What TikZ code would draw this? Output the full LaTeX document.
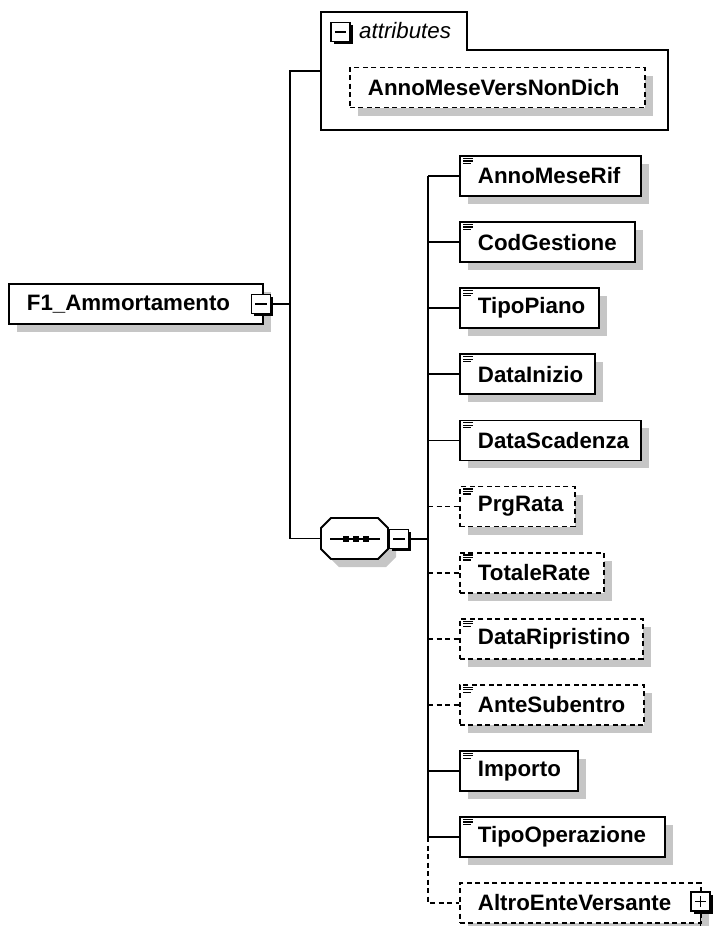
\documentclass[tikz,border=0pt]{standalone}
\usepackage{fontspec}
\setmainfont{Liberation Sans}
\usetikzlibrary{shadows}
\definecolor{shgray}{RGB}{198,198,198}
\tikzset{
  lbl/.style={font=\fontsize{22.3}{26}\selectfont\bfseries,
    execute at begin node={\hyphenpenalty=10000\relax\exhyphenpenalty=10000\relax}},
  elbox/.style={lbl, draw, line width=1.8pt, fill=white, anchor=west, minimum height=40pt,
    inner xsep=18pt, inner ysep=0pt, align=left,
    drop shadow={shadow xshift=8pt, shadow yshift=-8pt, fill=shgray, opacity=1}},
  optbox/.style={elbox, dash pattern=on 5pt off 3.5pt},
  conn/.style={line width=1.8pt},
  optconn/.style={line width=1.8pt, dash pattern=on 5pt off 3.5pt},
  tgl/.style={draw, line width=1.5pt, fill=white, minimum size=19pt, inner sep=0pt,
    drop shadow={shadow xshift=2.5pt, shadow yshift=-2.5pt, fill=black, opacity=1}},
}
\newcommand\simpleicon[1]{%
  \draw[line width=1.2pt] ([shift={(4pt,-3.3pt)}]#1.north west) -- ++(9.5,0);
  \draw[line width=1.2pt] ([shift={(4pt,-5.8pt)}]#1.north west) -- ++(9.5,0);
  \draw[line width=1.2pt] ([shift={(4pt,-8.3pt)}]#1.north west) -- ++(8,0);
}
\newcommand\minusicon[1]{%
  \draw[line width=1.5pt] ([xshift=4.5pt]#1.west) -- ([xshift=-4.5pt]#1.east);
}
\begin{document}
\begin{tikzpicture}[x=1pt,y=-1pt]
\useasboundingbox (0,0) rectangle (712,926);

% attributes group
\draw[line width=1.8pt] (321,130) -- (321,12) -- (467,12) -- (467,50) -- (668,50) -- (668,130) -- cycle;
\node[tgl] (attrt) at (340.5,32) {};
\minusicon{attrt}
\node[font=\fontsize{22.3}{26}\selectfont\itshape, anchor=west, inner sep=0pt] (attrlbl) at (359,31) {attributes};
\node[optbox, text width=259pt] (amv) at (349,87.5) {AnnoMeseVersNonDich};
\coordinate (attrin) at (321,71);

% root element
\node[elbox, text width=218pt] (f1) at (8,304) {F1\_Ammortamento};
\node[tgl] (f1t) at (261,304) {};
\minusicon{f1t}
\coordinate (j1) at (290,304);

% sequence compositor
\fill[shgray] (339,526) -- (386,526) -- (396,536) -- (396,557) -- (386,567) -- (339,567) -- (329,557) -- (329,536) -- cycle;
\draw[line width=1.8pt, fill=white] (331,518) -- (378,518) -- (388,528) -- (388,549) -- (378,559) -- (331,559) -- (321,549) -- (321,528) -- cycle;
\node[minimum width=67pt, minimum height=41pt, inner sep=0pt] (seq) at (354.5,538.5) {};
\draw[line width=1.8pt] (330,539) -- (380,539);
\foreach \dx in {346,356,366} \fill (\dx-3,539-3) rectangle ++(6,6);
\node[tgl] (seqt) at (399,539) {};
\minusicon{seqt}
\coordinate (j2) at (428,539);

% children
\node[elbox, text width=145pt] (c1) at (459,176) {AnnoMeseRif};
\node[elbox, text width=139pt] (c2) at (459,242.1) {CodGestione};
\node[elbox, text width=103pt] (c3) at (459,308.2) {TipoPiano};
\node[elbox, text width=99pt] (c4) at (459,374.3) {DataInizio};
\node[elbox, text width=145pt] (c5) at (459,440.4) {DataScadenza};
\node[optbox, text width=79pt] (c6) at (459,506.5) {PrgRata};
\node[optbox, text width=108pt] (c7) at (459,572.6) {TotaleRate};
\node[optbox, text width=147pt] (c8) at (459,638.7) {DataRipristino};
\node[optbox, text width=148pt] (c9) at (459,704.8) {AnteSubentro};
\node[elbox, text width=82pt] (c10) at (459,770.9) {Importo};
\node[elbox, text width=169pt] (c11) at (459,837) {TipoOperazione};
\node[optbox, text width=205pt] (c12) at (459,903) {AltroEnteVersante};
\foreach \n in {c1,c2,c3,c4,c5,c6,c7,c8,c9,c10,c11} {\simpleicon{\n}}
\node[tgl] (c12t) at (700.5,901.5) {};
\minusicon{c12t}
\draw[line width=1.5pt] ([yshift=-4.5pt]c12t.north) -- ([yshift=4.5pt]c12t.south);
\coordinate (stubend) at (700.5,926);
\draw[conn] (c12t.south) -- (stubend);

% connectors
\draw[conn] (f1t.east) -- (j1);
\draw[conn] (attrin) -| (j1) |- (seq.west);
\draw[conn] (seqt.east) -- (j2);
\draw[conn] (j2 |- c1.west) -- (j2 |- c11.west);
\draw[optconn] (j2 |- c11.west) |- (c12.west);
\foreach \n in {c1,c2,c3,c4,c5,c10,c11} {\draw[conn] (j2 |- \n.west) -- (\n.west);}
\foreach \n in {c6,c7,c8,c9} {\draw[optconn] (j2 |- \n.west) -- (\n.west);}
\end{tikzpicture}
\end{document}
